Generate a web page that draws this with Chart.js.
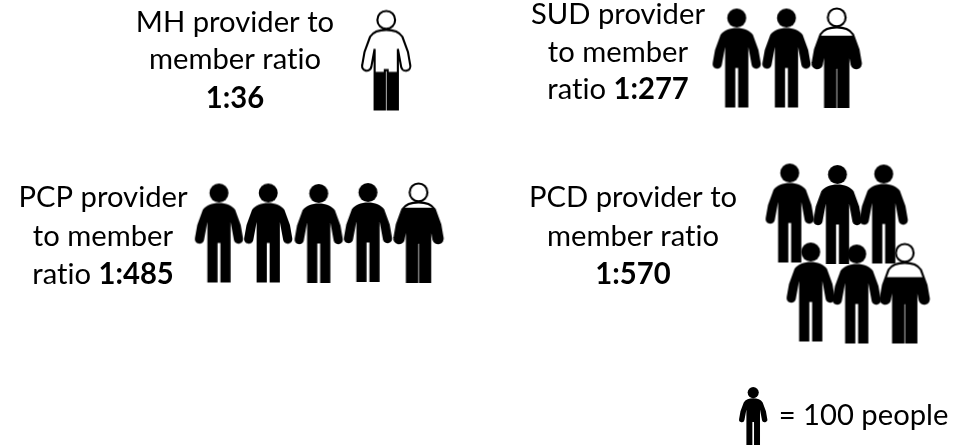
<!DOCTYPE html>
<html>
<head>
<meta charset="utf-8">
<style>html,body{margin:0;padding:0;background:#fff}canvas{display:block}</style>
<script src="https://cdn.jsdelivr.net/npm/chart.js@4"></script>
</head>
<body>
<canvas id="c" width="961" height="446"></canvas>
<script>
// ---- values ----
const providers = ['MH', 'SUD', 'PCP', 'PCD'];
const membersPerProvider = [36, 277, 485, 570];
const peoplePerIcon = 100;
// height of the black fill in the last, partial icon, as drawn in the picture
const partialFillDrawn = [0.38, 0.72, 0.75, 0.66];

// ---- layout on the hidden page scales (kept apart from the values) ----
const iconX = [
  [386.5],
  [737, 786.7, 837],
  [219.2, 268.5, 319, 368.2, 418.8],
  [790, 837.7, 884, 811, 857, 905]
];
const iconY = [
  [60],
  [58, 58, 57.5],
  [233, 233, 233.5, 232.5, 232.5],
  [213, 214.5, 214, 292, 294, 293]
];
const iconHeight = 99;
const keyX = [753.5], keyY = [416], keyHeight = 58;
const textBlocks = [
  {x: 235, y: [32, 69, 108], lines: [[['MH provider to', 0]], [['member ratio', 0]], [['1:36', 1]]]},
  {x: 618, y: [24, 62, 99], lines: [[['SUD provider', 0]], [['to member', 0]], [['ratio ', 0], ['1:277', 1]]]},
  {x: 103, y: [207, 246, 284], lines: [[['PCP provider', 0]], [['to member', 0]], [['ratio ', 0], ['1:485', 1]]]},
  {x: 633, y: [207, 246, 284], lines: [[['PCD provider to', 0]], [['member ratio', 0]], [['1:570', 1]]]},
  {x: 863.5, y: [425], lines: [[['= 100 people', 0]]]}
];
const FONT = 'Lato', FONT_PX = 29.5, SQUEEZE = 0.99;

// ---- person icon ----
function bodyPath(g) {
  g.beginPath();
  g.moveTo(24, 19.2);
  g.bezierCurveTo(31, 19.2, 37, 21.5, 40, 26);
  g.lineTo(45.5, 41);
  g.lineTo(47.7, 53.8);
  g.arc(43.3, 55, 4.6, -0.26, Math.PI - 0.2, false);
  g.lineTo(35.5, 38);
  g.lineTo(35.5, 98);
  g.lineTo(25.4, 98);
  g.lineTo(25.4, 59);
  g.lineTo(22.6, 59);
  g.lineTo(22.6, 98);
  g.lineTo(12.5, 98);
  g.lineTo(12.5, 38);
  g.lineTo(9.2, 55.9);
  g.arc(4.7, 55, 4.6, 0.2, Math.PI + 0.26, false);
  g.lineTo(2.5, 41);
  g.lineTo(8, 26);
  g.bezierCurveTo(11, 21.5, 17, 19.2, 24, 19.2);
  g.closePath();
}
function makeIcon(h, level) {
  const k = h / 98, pad = 3;
  const cv = document.createElement('canvas');
  cv.width = Math.ceil(48 * k) + pad * 2;
  cv.height = Math.ceil(h) + pad * 2;
  const g = cv.getContext('2d');
  g.translate(pad, pad);
  g.scale(k, k);
  g.fillStyle = '#000';
  g.strokeStyle = '#000';
  if (level >= 1) {
    bodyPath(g); g.fill();
    g.beginPath(); g.arc(24, 9.4, 9.4, 0, Math.PI * 2); g.fill();
  } else {
    g.lineWidth = 2.1;
    bodyPath(g);
    g.fillStyle = '#fff'; g.fill();
    g.save();
    bodyPath(g); g.clip();
    g.fillStyle = '#000';
    g.fillRect(-2, 98 * (1 - level), 60, 100);
    g.restore();
    bodyPath(g); g.stroke();
    g.beginPath(); g.arc(24, 9.3, 8.8, 0, Math.PI * 2);
    g.fillStyle = '#fff'; g.fill(); g.stroke();
  }
  return cv;
}

const datasets = providers.map((name, i) => {
  const count = Math.ceil(membersPerProvider[i] / peoplePerIcon);
  const full = makeIcon(iconHeight, 1);
  const part = makeIcon(iconHeight, partialFillDrawn[i]);
  const data = [], styles = [];
  for (let n = 0; n < count; n++) {
    data.push({x: iconX[i][n], y: iconY[i][n]});
    styles.push(n === count - 1 ? part : full);
  }
  return {label: name, data, pointStyle: styles, pointRadius: 25, showLine: false, clip: false};
});
datasets.push({
  label: '100 people',
  data: [{x: keyX[0], y: keyY[0]}],
  pointStyle: [makeIcon(keyHeight, 1)],
  pointRadius: 15,
  showLine: false,
  clip: false
});

const textPlugin = {
  id: 'pictogramText',
  afterDatasetsDraw(chart) {
    const g = chart.ctx, sx = chart.scales.x, sy = chart.scales.y;
    g.save();
    g.fillStyle = '#000';
    g.textBaseline = 'alphabetic';
    g.textAlign = 'left';
    g.textRendering = 'optimizeSpeed';
    const fontOf = b => (b ? 'bold ' : '') + FONT_PX + 'px ' + FONT + ', "Open Sans", sans-serif';
    textBlocks.forEach(block => {
      block.lines.forEach((segs, l) => {
        let total = 0;
        const widths = segs.map(s => {
          g.font = fontOf(s[1]);
          const w = g.measureText(s[0]).width * SQUEEZE;
          total += w;
          return w;
        });
        let px = sx.getPixelForValue(block.x) - total / 2;
        const py = sy.getPixelForValue(block.y[l]);
        segs.forEach((s, j) => {
          g.font = fontOf(s[1]);
          g.fillText(s[0], px, py, widths[j]);
          px += widths[j];
        });
      });
    });
    g.restore();
  }
};

new Chart(document.getElementById('c'), {
  type: 'scatter',
  data: {datasets},
  plugins: [textPlugin],
  options: {
    responsive: false,
    animation: false,
    events: [],
    layout: {padding: 0, autoPadding: false},
    plugins: {legend: {display: false}, tooltip: {enabled: false}, title: {display: false}},
    scales: {
      x: {type: 'linear', min: 0, max: 961, display: false},
      y: {type: 'linear', min: 0, max: 446, reverse: true, display: false}
    }
  }
});
</script>
</body>
</html>
